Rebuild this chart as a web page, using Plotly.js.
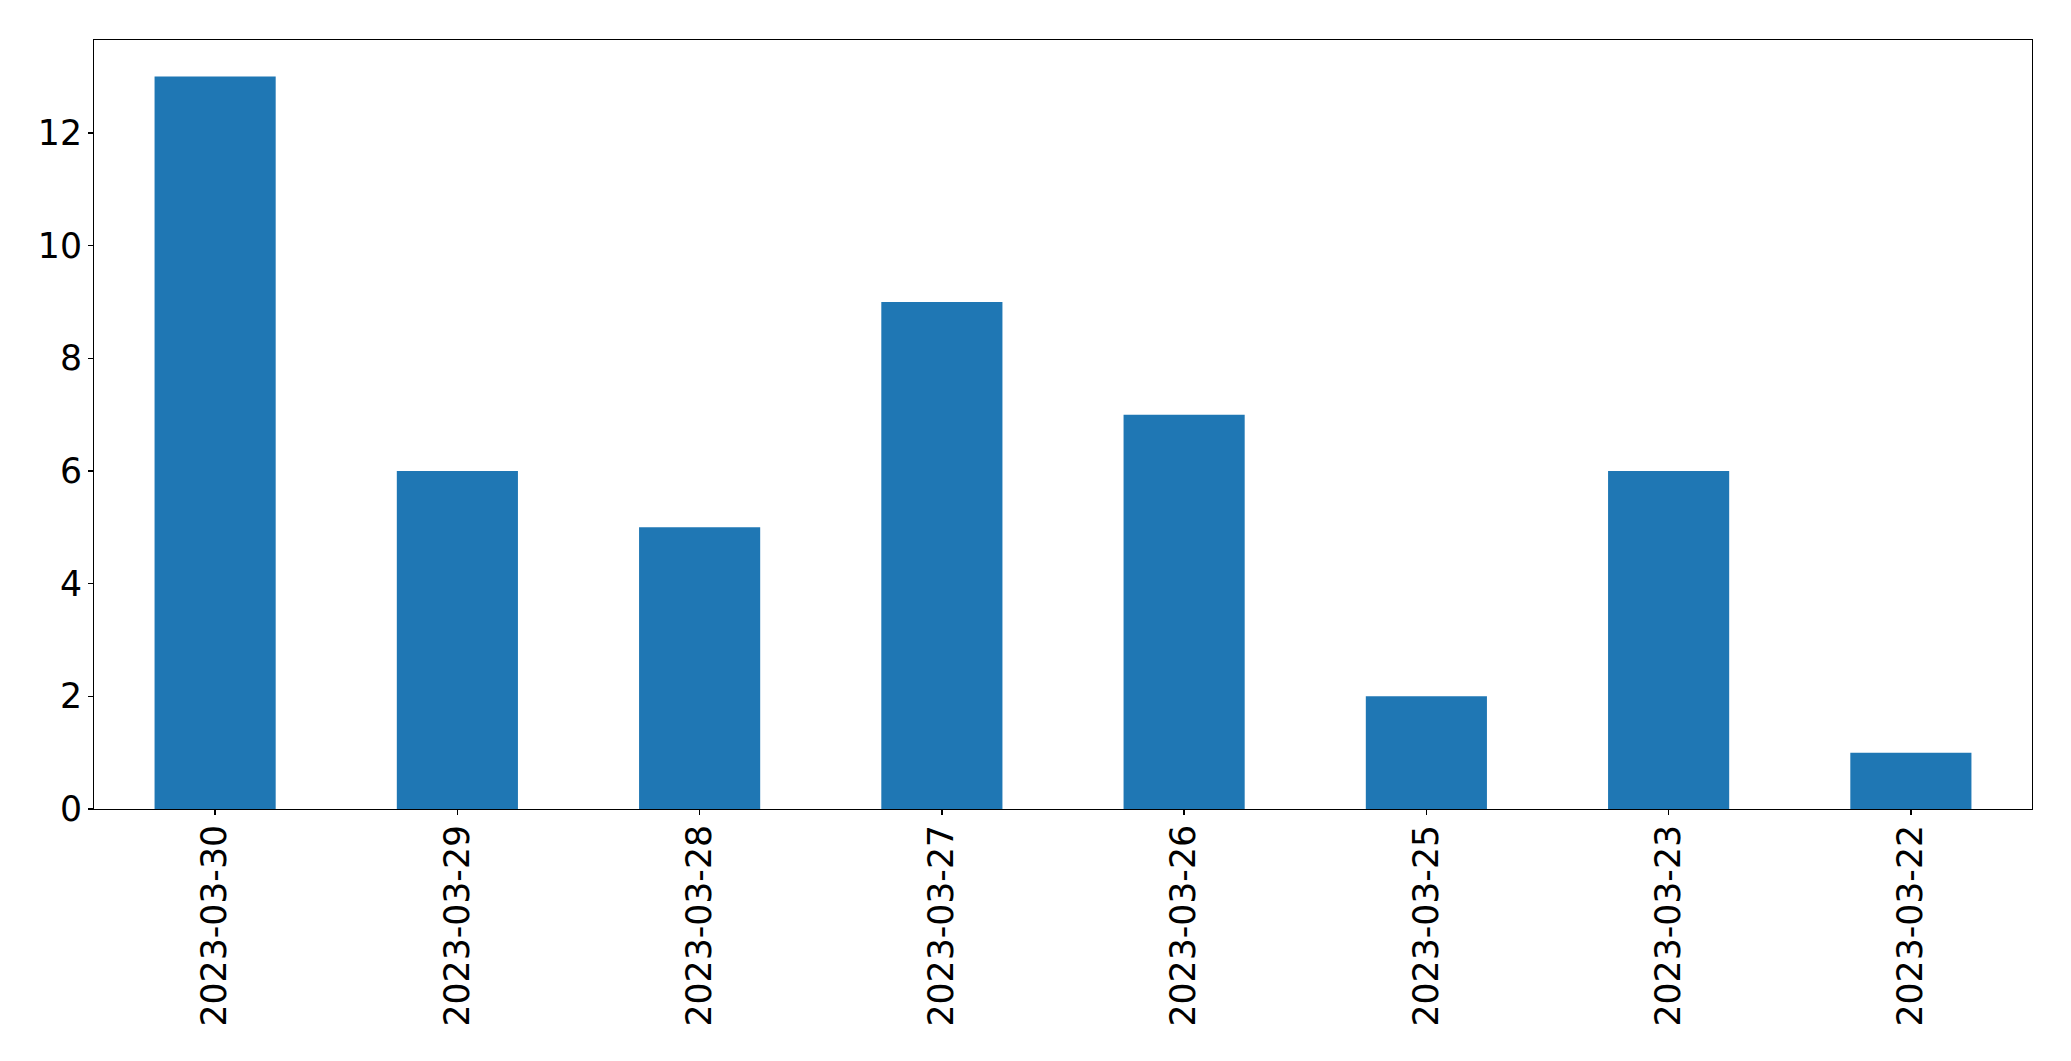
<!DOCTYPE html>
<html>
<head>
<meta charset="utf-8">
<script src="https://cdn.plot.ly/plotly-3.0.1.min.js"></script>
<style>html,body{margin:0;padding:0;background:#fff;}#chart{width:2071px;height:1061px;}</style>
</head>
<body>
<div id="chart"></div>
<script>
const dates = ["2023-03-30","2023-03-29","2023-03-28","2023-03-27","2023-03-26","2023-03-25","2023-03-23","2023-03-22"];
const counts = [13, 6, 5, 9, 7, 2, 6, 1];
const yTicks = [0, 2, 4, 6, 8, 10, 12];

const trace = {
  type: "bar",
  x: dates,
  y: counts,
  marker: {color: "#1f77b4", line: {width: 0}},
  width: 0.5,
  hoverinfo: "x+y"
};

const layout = {
  width: 2071,
  height: 1061,
  margin: {l: 94, r: 39, t: 40, b: 252, pad: 0},
  paper_bgcolor: "#ffffff",
  plot_bgcolor: "#ffffff",
  font: {family: "DejaVu Sans", size: 34.7, color: "#000000"},
  showlegend: false,
  bargap: 0.5,
  xaxis: {
    type: "category",
    range: [-0.5, dates.length - 0.5],
    tickangle: -90,
    ticks: "outside",
    ticklen: 5,
    tickwidth: 1.3,
    tickcolor: "#000",
    showline: true,
    linecolor: "#000",
    linewidth: 1.1,
    mirror: true,
    showgrid: false,
    zeroline: false,
    ticklabelstandoff: -4,
    tickfont: {family: "DejaVu Sans", size: 34.7, color: "#000"}
  },
  yaxis: {
    range: [0, 13.65],
    tickmode: "array",
    tickvals: yTicks,
    ticktext: yTicks.map(String),
    ticks: "outside",
    ticklen: 5,
    tickwidth: 1.3,
    tickcolor: "#000",
    showline: true,
    linecolor: "#000",
    linewidth: 1.1,
    mirror: true,
    showgrid: false,
    zeroline: false,
    ticklabelstandoff: -1,
    tickfont: {family: "DejaVu Sans", size: 34.7, color: "#000"}
  }
};

Plotly.newPlot("chart", [trace], layout, {displayModeBar: false, staticPlot: true});
</script>
</body>
</html>
